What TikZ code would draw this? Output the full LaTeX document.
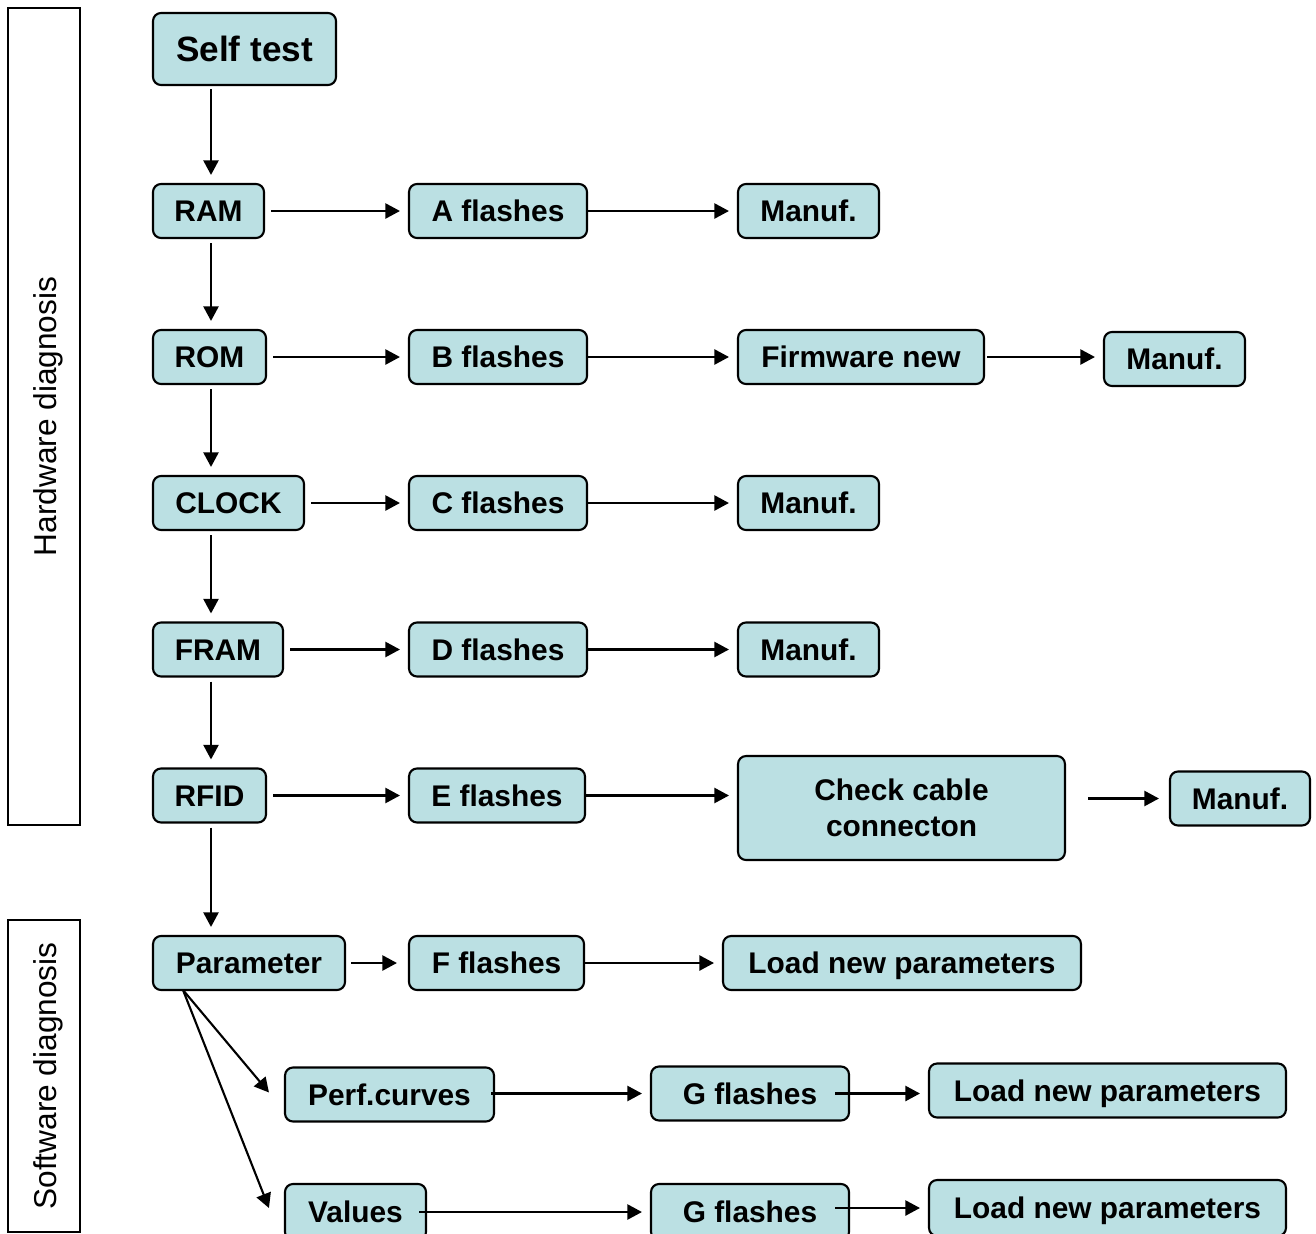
\documentclass[tikz,border=0pt]{standalone}
\usepackage{fontspec}
\setmainfont{Liberation Sans}
\usetikzlibrary{arrows.meta}
\definecolor{boxfill}{RGB}{187,224,227}
\begin{document}
\begin{tikzpicture}[x=0.02cm,y=-0.02cm]
\tikzset{block/.style = {shape=rectangle,draw,fill=boxfill,rounded corners=0.16cm,line width=1.2pt,minimum height=1.08cm,inner sep=0pt,text height=12.2pt,text depth=0pt,font=\fontsize{17}{20.5}\selectfont\bfseries,align=center}}
\tikzset{side/.style = {shape=rectangle,draw,line width=1.2pt,minimum width=1.44cm,inner sep=0pt}}
\tikzset{link/.style = {-{Triangle[length=0.29cm,width=0.3cm]},line width=1.2pt,shorten >=8*0.02cm}}
\useasboundingbox (0,0) rectangle (1316,1234);
% side frames
\node[side,minimum height=16.34cm] (hw) at (44,416.5) {};
\node[rotate=90,font=\fontsize{18}{20}\selectfont] (hwlabel) at ([shift={(4,0)}]hw.center) {Hardware diagnosis};
\node[side,minimum height=6.24cm] (sw) at (44,1076) {};
\node[rotate=90,font=\fontsize{18}{20}\selectfont] (swlabel) at ([shift={(4,0)}]sw.center) {Software diagnosis};
% first column
\node[block,minimum width=3.66cm,minimum height=1.44cm,text height=14.3pt,font=\fontsize{20}{24}\selectfont\bfseries] (self) at (244.5,49) {Self test};
\node[block,minimum width=2.22cm] (ram) at (208.5,211) {RAM};
\node[block,minimum width=2.26cm] (rom) at (209.5,357) {ROM};
\node[block,minimum width=3.02cm] (clock) at (228.5,503) {CLOCK};
\node[block,minimum width=2.6cm] (fram) at (218,649.5) {FRAM};
\node[block,minimum width=2.26cm] (rfid) at (209.5,795.5) {RFID};
\node[block,minimum width=3.84cm] (param) at (249,963) {Parameter};
\node[block,minimum width=4.18cm] (perf) at (389.5,1094.5) {Perf.curves};
\node[block,minimum width=2.82cm,minimum height=1.12cm] (values) at (355.5,1212) {Values};
% flashes
\node[block,minimum width=3.56cm] (fa) at (498,211) {A flashes};
\node[block,minimum width=3.56cm] (fb) at (498,357) {B flashes};
\node[block,minimum width=3.56cm] (fc) at (498,503) {C flashes};
\node[block,minimum width=3.56cm] (fd) at (498,649.5) {D flashes};
\node[block,minimum width=3.52cm] (fe) at (497,795.5) {E flashes};
\node[block,minimum width=3.5cm] (ff) at (496.5,963) {F flashes};
\node[block,minimum width=3.96cm] (fg1) at (750,1093.5) {G flashes};
\node[block,minimum width=3.96cm,minimum height=1.12cm] (fg2) at (750,1212) {G flashes};
% actions
\node[block,minimum width=2.82cm] (ma) at (808.5,211) {Manuf.};
\node[block,minimum width=4.92cm] (fw) at (861,357) {Firmware new};
\node[block,minimum width=2.82cm] (mb) at (1174.5,359) {Manuf.};
\node[block,minimum width=2.82cm] (mc) at (808.5,503) {Manuf.};
\node[block,minimum width=2.82cm] (md) at (808.5,649.5) {Manuf.};
\node[block,minimum width=6.54cm,minimum height=2.08cm,text height={},text depth={}] (cable) at (901.5,808) {Check cable\\connecton};
\node[block,minimum width=2.8cm] (me) at (1240,798.5) {Manuf.};
\node[block,minimum width=7.16cm] (lf) at (902,963) {Load new parameters};
\node[block,minimum width=7.14cm] (lg1) at (1107.5,1090.5) {Load new parameters};
\node[block,minimum width=7.14cm,minimum height=1.12cm] (lg2) at (1107.5,1208) {Load new parameters};
% down the left
\coordinate (spine) at (211,0);
\draw[link,shorten <=3*0.02cm] (self.south -| spine) -- (ram.north -| spine);
\draw[link,shorten <=4*0.02cm] (ram.south -| spine) -- (rom.north -| spine);
\draw[link,shorten <=4*0.02cm] (rom.south -| spine) -- (clock.north -| spine);
\draw[link,shorten <=4*0.02cm] (clock.south -| spine) -- (fram.north -| spine);
\draw[link,shorten <=4*0.02cm] (fram.south -| spine) -- (rfid.north -| spine);
\draw[link,shorten <=4*0.02cm] (rfid.south -| spine) -- (param.north -| spine);
% rows
\draw[link,shorten <=6*0.02cm] (ram) -- (fa);
\draw[link] (fa) -- (ma);
\draw[link,shorten <=6*0.02cm] (rom) -- (fb);
\draw[link] (fb) -- (fw);
\draw[link,shorten <=2*0.02cm] (fw) -- (mb.west |- fw);
\draw[link,shorten <=6*0.02cm] (clock) -- (fc);
\draw[link] (fc) -- (mc);
\draw[link,shorten <=6*0.02cm] (fram) -- (fd);
\draw[link] (fd) -- (md);
\draw[link,shorten <=6*0.02cm] (rfid) -- (fe);
\draw[link] (fe) -- (cable.west |- fe);
\draw[link,shorten <=22*0.02cm,shorten >=10*0.02cm] (cable.east |- me) -- (me);
\draw[link,shorten <=5*0.02cm,shorten >=11*0.02cm] (param) -- (ff);
\draw[link] (ff) -- (lf);
\draw[link,shorten <=-4*0.02cm] (perf.east |- fg1) -- (fg1);
\draw[link,shorten <=-15*0.02cm] (fg1) -- (lg1.west |- fg1);
\draw[link,shorten <=-8*0.02cm] (values.east |- fg2) -- (fg2);
\draw[link,shorten <=-15*0.02cm] (fg2.east |- lg2) -- (lg2);
% branches
\coordinate (fork) at (183,990);
\draw[link,shorten >=0pt] (fork) -- ([shift={(-15,-2)}]perf.west);
\draw[link,shorten >=0pt] (fork) -- ([shift={(-15,-4)}]values.west);
\end{tikzpicture}
\end{document}
